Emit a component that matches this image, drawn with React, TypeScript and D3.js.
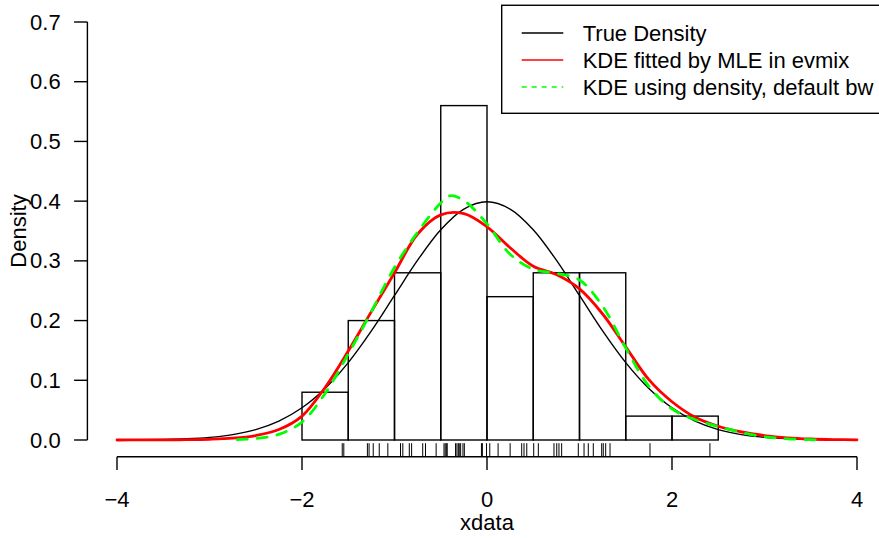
import React from "react";
import * as d3 from "d3";

// ---------- data ----------
const binEdges = [-2, -1.5, -1, -0.5, 0, 0.5, 1, 1.5, 2, 2.5];
const binDensity = [0.08, 0.2, 0.28, 0.56, 0.24, 0.28, 0.28, 0.04, 0.04];

const xdata = [
  -1.565, -1.548,
  -1.293, -1.275, -1.23, -1.165, -1.072,
  -0.935, -0.91, -0.84, -0.815, -0.695, -0.665, -0.55,
  -0.465, -0.452, -0.44, -0.43, -0.34, -0.325, -0.31, -0.3, -0.285, -0.26, -0.245, -0.06, -0.05, -0.005,
  0.03, 0.12, 0.25, 0.375, 0.4, 0.43,
  0.505, 0.555, 0.724, 0.754, 0.778, 0.807, 0.987,
  1.049, 1.095, 1.149, 1.24, 1.257, 1.283, 1.33,
  1.762,
  2.41,
];

const gridX = [
  -4, -3.75, -3.5, -3.25, -3, -2.75, -2.5, -2.25, -2, -1.75, -1.5, -1.25, -1, -0.75, -0.5, -0.25,
  0, 0.25, 0.5, 0.75, 1, 1.25, 1.5, 1.75, 2, 2.25, 2.5, 2.75, 3, 3.25, 3.5, 3.75, 4,
];
const trueDensity = [
  0.0001, 0.0004, 0.0009, 0.002, 0.0044, 0.0091, 0.0175, 0.0317, 0.054, 0.0863, 0.1295, 0.1826, 0.242, 0.3011, 0.3521, 0.3867,
  0.3989, 0.3867, 0.3521, 0.3011, 0.242, 0.1826, 0.1295, 0.0863, 0.054, 0.0317, 0.0175, 0.0091, 0.0044, 0.002, 0.0009, 0.0004, 0.0001,
];
const kdeMle = [
  0.0, 0.0001, 0.0002, 0.0005, 0.0012, 0.003, 0.0075, 0.0175, 0.04, 0.088, 0.149, 0.215, 0.28, 0.345, 0.377, 0.379,
  0.357, 0.322, 0.291, 0.277, 0.253, 0.211, 0.156, 0.101, 0.064, 0.038, 0.023, 0.0135, 0.0075, 0.0037, 0.0017, 0.0007, 0.0003,
];

const kdeDefaultX = [
  -2.7, -2.5, -2.25, -2, -1.75, -1.5, -1.25, -1, -0.75, -0.5, -0.4, -0.25, 0, 0.25, 0.5, 0.75, 1, 1.25, 1.5, 1.75, 2, 2.25,
  2.5, 2.75, 3, 3.25, 3.5, 3.55,
];
const kdeDefault = [
  0.0006, 0.0025, 0.0095, 0.03, 0.078, 0.144, 0.215, 0.289, 0.348, 0.397, 0.409, 0.401, 0.362, 0.311, 0.286, 0.279, 0.268,
  0.224, 0.154, 0.09, 0.052, 0.034, 0.0225, 0.0125, 0.0055, 0.002, 0.0005, 0.0003,
];

const xTicks = [-4, -2, 0, 2, 4];
const yTicks = [0, 0.1, 0.2, 0.3, 0.4, 0.5, 0.6, 0.7];

const legendItems = [
  { label: "True Density", color: "#000000", width: 1.4, dash: "" },
  { label: "KDE fitted by MLE in evmix", color: "#FF0000", width: 1.4, dash: "" },
  { label: "KDE using density, default bw", color: "#00FF00", width: 1.4, dash: "5,5" },
];

// ---------- layout ----------
const W = 879;
const H = 538;
const FONT = "'Liberation Sans', Arial, Helvetica, sans-serif";
const FS = 22;

export default function App() {
  const x = d3.scaleLinear().domain([-4, 4]).range([117, 857]);
  const y = d3.scaleLinear().domain([0, 0.7]).range([440, 22]);
  const plotLeft = x(-4.32);
  const plotBottom = y(-0.028);
  const plotTop = y(0.728);
  const plotRight = x(4.32);

  const line = d3
    .line<[number, number]>()
    .x((d) => x(d[0]))
    .y((d) => y(d[1]))
    .curve(d3.curveCatmullRom.alpha(0.5));

  const truePts = gridX.map((v, i) => [v, trueDensity[i]] as [number, number]);
  const mlePts = gridX.map((v, i) => [v, kdeMle[i]] as [number, number]);
  const defPts = kdeDefaultX.map((v, i) => [v, kdeDefault[i]] as [number, number]);

  const rugLen = (plotBottom - plotTop) * 0.03;

  const legLeft = 501.7;
  const legTop = plotTop;
  const legRowY = [33, 60, 87];

  return (
    <svg
      width={W}
      height={H}
      style={{ position: "absolute", left: 0, top: 0, background: "#fff" }}
      fontFamily={FONT}
    >
      <rect x={0} y={0} width={W} height={H} fill="#fff" />
      {/* histogram */}
      {binDensity.map((d, i) => (
        <rect
          key={i}
          x={x(binEdges[i])}
          y={y(d)}
          width={x(binEdges[i + 1]) - x(binEdges[i])}
          height={y(0) - y(d)}
          fill="none"
          stroke="#000"
          strokeWidth={1.4}
        />
      ))}
      {/* curves */}
      <path d={line(truePts) || ""} fill="none" stroke="#000" strokeWidth={1.4} />
      <path d={line(mlePts) || ""} fill="none" stroke="#FF0000" strokeWidth={2.8} strokeLinecap="round" />
      <path
        d={line(defPts) || ""}
        fill="none"
        stroke="#00FF00"
        strokeWidth={2.8}
        strokeDasharray="10,10"
        strokeLinecap="round"
      />
      {/* rug */}
      {xdata.map((v, i) => (
        <line
          key={i}
          x1={x(v)}
          x2={x(v)}
          y1={plotBottom}
          y2={plotBottom - rugLen}
          stroke="#000"
          strokeWidth={1}
        />
      ))}
      {/* y axis */}
      <line x1={plotLeft} x2={plotLeft} y1={y(0)} y2={y(0.7)} stroke="#000" strokeWidth={1.4} />
      {yTicks.map((t) => (
        <g key={t}>
          <line x1={plotLeft - 13.3} x2={plotLeft} y1={y(t)} y2={y(t)} stroke="#000" strokeWidth={1.4} />
          <text
            x={plotLeft - 26.7}
            y={y(t)}
            textAnchor="end"
            dominantBaseline="central"
            fontSize={FS}
            fill="#000"
          >
            {t.toFixed(1)}
          </text>
        </g>
      ))}
      <text
        transform={`translate(18, ${(plotTop + plotBottom) / 2}) rotate(-90)`}
        textAnchor="middle"
        dominantBaseline="central"
        fontSize={FS}
        fill="#000"
      >
        Density
      </text>
      {/* x axis */}
      <line x1={x(-4)} x2={x(4)} y1={plotBottom} y2={plotBottom} stroke="#000" strokeWidth={1.4} />
      {xTicks.map((t) => (
        <g key={t}>
          <line x1={x(t)} x2={x(t)} y1={plotBottom} y2={plotBottom + 13.3} stroke="#000" strokeWidth={1.4} />
          <text x={x(t)} y={507} textAnchor="middle" fontSize={FS} fill="#000">
            {t < 0 ? `\u2212${Math.abs(t)}` : `${t}`}
          </text>
        </g>
      ))}
      <text x={x(0)} y={530} textAnchor="middle" fontSize={FS} fill="#000">
        xdata
      </text>
      {/* legend */}
      <rect
        x={legLeft}
        y={legTop}
        width={plotRight - legLeft}
        height={113.3 - legTop}
        fill="#fff"
        stroke="#000"
        strokeWidth={1.4}
      />
      {legendItems.map((it, i) => (
        <g key={it.label}>
          <line
            x1={legLeft + 20}
            x2={legLeft + 61.6}
            y1={legRowY[i]}
            y2={legRowY[i]}
            stroke={it.color}
            strokeWidth={it.width}
            strokeDasharray={it.dash || undefined}
          />
          <text x={legLeft + 81} y={legRowY[i]} dominantBaseline="central" fontSize={FS} fill="#000">
            {it.label}
          </text>
        </g>
      ))}
    </svg>
  );
}
